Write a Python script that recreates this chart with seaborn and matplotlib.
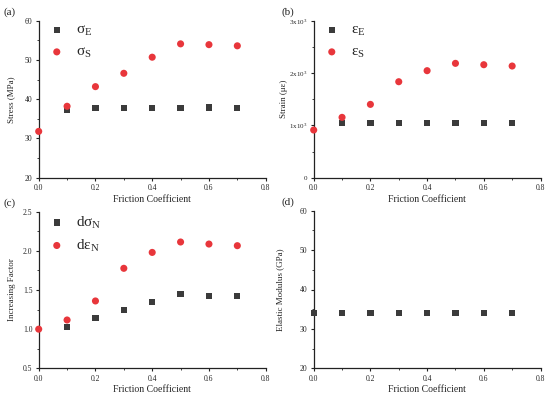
import matplotlib
matplotlib.use("Agg")
import matplotlib.pyplot as plt
import seaborn as sns
import pandas as pd
from matplotlib.ticker import MultipleLocator, FuncFormatter

sns.set_style("ticks")
plt.rcParams['font.family'] = ['Liberation Serif', 'DejaVu Serif']
plt.rcParams['mathtext.fontset'] = 'custom'
plt.rcParams['mathtext.rm'] = 'Liberation Serif'

friction = [0.0, 0.1, 0.2, 0.3, 0.4, 0.5, 0.6, 0.7]
friction_e = [0.1, 0.2, 0.3, 0.4, 0.5, 0.6, 0.7]

stress_E = [37.4, 37.8, 37.7, 37.8, 37.7, 37.9, 37.8]
stress_S = [31.8, 38.2, 43.2, 46.6, 50.7, 54.1, 53.9, 53.6]

strain_E = [1038, 1038, 1038, 1038, 1038, 1038, 1038]
strain_S = [911, 1153, 1401, 1834, 2045, 2185, 2159, 2134]

factor_sigma = [1.03, 1.147, 1.245, 1.347, 1.445, 1.428, 1.428]
factor_eps = [1.0, 1.117, 1.36, 1.777, 1.98, 2.113, 2.087, 2.066]

modulus = [34.0, 34.0, 34.0, 34.0, 34.0, 34.0, 34.0, 34.0]

GRAY = '#3b3b3b'
RED = '#e8363b'

W, H = 550, 398
fig = plt.figure(figsize=(W / 100, H / 100), dpi=100)


def make_ax(l, t, r, b):
    return fig.add_axes([l / W, 1 - b / H, (r - l) / W, (b - t) / H])


axA = make_ax(38.7, 20.7, 265.7, 177.7)
axB = make_ax(313.7, 20.7, 540.5, 177.7)
axC = make_ax(38.7, 211.7, 265.7, 368.3)
axD = make_ax(313.7, 210.7, 540.5, 368.3)


def sq(ax, x, y, label=None):
    sns.scatterplot(x=x, y=y, ax=ax, marker='s', color=GRAY, s=20,
                    edgecolor='none', label=label, clip_on=False, zorder=3)


def ci(ax, x, y, label=None):
    sns.scatterplot(x=x, y=y, ax=ax, marker='o', color=RED, s=26,
                    edgecolor='none', label=label, clip_on=False, zorder=4)


sq(axA, friction_e, stress_E, r'$\mathregular{σ_E}$')
ci(axA, friction, stress_S, r'$\mathregular{σ_S}$')
sq(axB, friction_e, strain_E, r'$\mathregular{ε_E}$')
ci(axB, friction, strain_S, r'$\mathregular{ε_S}$')
sq(axC, friction_e, factor_sigma, r'$\mathregular{dσ_N}$')
ci(axC, friction, factor_eps, r'$\mathregular{dε_N}$')
sq(axD, friction, modulus)

for ax in (axA, axB, axC, axD):
    ax.set_xlim(0, 0.8)
    ax.xaxis.set_major_locator(MultipleLocator(0.2))
    ax.xaxis.set_minor_locator(MultipleLocator(0.1))
    ax.xaxis.set_major_formatter(FuncFormatter(lambda v, p: f"{v:.1f}"))
    ax.set_xlabel('Friction Coefficient', fontsize=7, labelpad=2)
    ax.tick_params(which='major', direction='out', length=2.5, width=0.8,
                   labelsize=5.5, pad=2, color='#222222')
    ax.tick_params(which='minor', direction='out', length=1.5, width=0.6,
                   color='#222222')
    for s in ('left', 'bottom'):
        ax.spines[s].set_linewidth(0.9)
        ax.spines[s].set_color('#222222')
    sns.despine(ax=ax)

axA.set_ylim(20, 60)
axA.yaxis.set_major_locator(MultipleLocator(10))
axA.yaxis.set_minor_locator(MultipleLocator(5))
axA.set_ylabel('Stress (MPa)', fontsize=6.5, labelpad=7)

axB.set_ylim(0, 3000)
axB.yaxis.set_major_locator(MultipleLocator(1000))
axB.yaxis.set_minor_locator(MultipleLocator(500))
axB.yaxis.set_major_formatter(FuncFormatter(
    lambda v, p: '0' if v == 0 else f"{int(round(v / 1000))}x10$^{{3}}$"))
axB.tick_params(axis='y', labelsize=5)
axB.set_ylabel('Strain (με)', fontsize=6.5, labelpad=1)

axC.set_ylim(0.5, 2.5)
axC.yaxis.set_major_locator(MultipleLocator(0.5))
axC.yaxis.set_minor_locator(MultipleLocator(0.25))
axC.yaxis.set_major_formatter(FuncFormatter(lambda v, p: f"{v:.1f}"))
axC.set_ylabel('Increasing Factor', fontsize=6.5, labelpad=5)

axD.set_ylim(20, 60)
axD.yaxis.set_major_locator(MultipleLocator(10))
axD.yaxis.set_minor_locator(MultipleLocator(5))
axD.set_ylabel('Elastic Modulus (GPa)', fontsize=6.5, labelpad=11)

for ax in (axA, axB, axC):
    ax.legend(loc='upper left', bbox_to_anchor=(0.046, 0.982), frameon=False,
              fontsize=11, handlelength=1.0, handletextpad=0.75,
              labelspacing=0.45, markerscale=1.0, borderaxespad=0,
              borderpad=0)

fig.text(4 / W, 1 - 12 / H, '(a)', fontsize=8, va='center')
fig.text(282 / W, 1 - 12 / H, '(b)', fontsize=8, va='center')
fig.text(4 / W, 1 - 203 / H, '(c)', fontsize=8, va='center')
fig.text(282 / W, 1 - 202 / H, '(d)', fontsize=8, va='center')

fig.savefig('out.png', dpi=100, facecolor='white')
